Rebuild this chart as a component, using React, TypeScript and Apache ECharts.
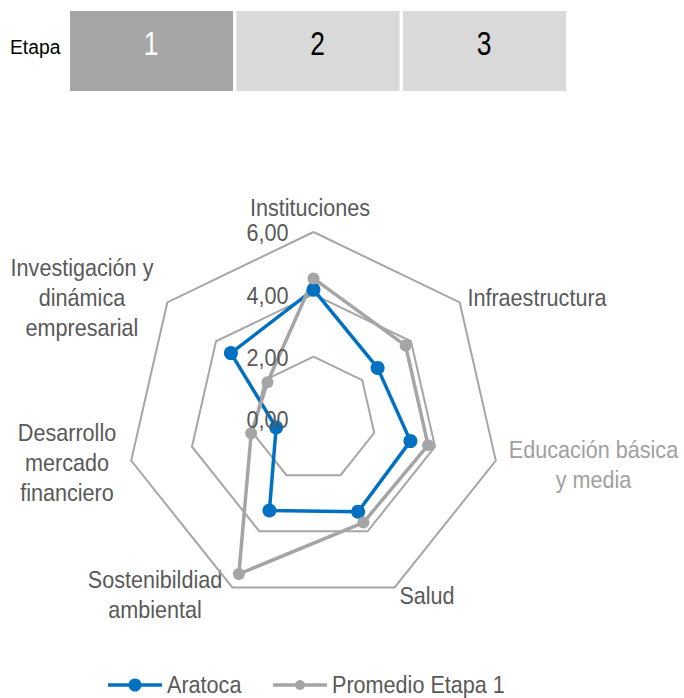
import React, { useEffect, useRef } from "react";
import * as echarts from "echarts";

// ---- Data ----
const indicators = [
  "Instituciones",
  "Infraestructura",
  "Educación básica\ny media",
  "Salud",
  "Sostenibildiad\nambiental",
  "Desarrollo\nmercado\nfinanciero",
  "Investigación y\ndinámica\nempresarial",
];
const aratoca = [4.15, 2.63, 3.19, 3.3, 3.26, 1.23, 3.39];
const promedio = [4.51, 3.78, 3.77, 3.69, 5.52, 2.05, 1.89];
const seriesNames = ["Aratoca", "Promedio Etapa 1"];
const tickValues = [0, 2, 4, 6];
const tickLabels = ["0,00", "2,00", "4,00", "6,00"];
const stages = ["1", "2", "3"];
const activeStage = 0;
const stageLabel = "Etapa";
const axisMax = 6;

// ---- Layout / style ----
const W = 684;
const H = 698;
const CX = 313.5;
const CY = 419;
const R = 187;
const FONT = "'Liberation Sans', Arial, sans-serif";
const NARROW = 0.9;
const TEXT = "#595959";
const BLUE = "#0070C0";
const GRAY = "#A5A5A5";
// label centers relative to chart center (clockwise order as in indicators)
const labelOffsets: [number, number][] = [
  [-3.5, -211],
  [223.5, -121],
  [280, 46],
  [113.5, 177],
  [-158.5, 176],
  [-246.5, 44],
  [-231.5, -121],
];
const labelColors = [TEXT, TEXT, "#A0A0A0", TEXT, TEXT, TEXT, TEXT];
const legendColors = [BLUE, GRAY];
const legendSymbol = [13, 10];
const legendX = [108, 273];
const legendY = 685;

// ECharts places radar indicators counter-clockwise; reorder for clockwise
const order = [0, 6, 5, 4, 3, 2, 1];

export default function App() {
  const ref = useRef<HTMLDivElement>(null);
  useEffect(() => {
    document.body.style.margin = "0";
    const chart = echarts.init(ref.current!, null, { renderer: "svg" });

    const graphics: any[] = [];
    // Stage header
    graphics.push({
      type: "text",
      x: 10,
      y: 47,
      scaleX: 0.92,
      style: { text: stageLabel, font: `21px ${FONT}`, fill: "#000", verticalAlign: "middle" },
    });
    stages.forEach((s, i) => {
      const x = 70 + i * 166.5;
      graphics.push({
        type: "rect",
        shape: { x, y: 11, width: 163, height: 80 },
        style: { fill: i === activeStage ? "#A6A6A6" : "#D9D9D9" },
      });
      graphics.push({
        type: "text",
        x: x + 81,
        y: 43,
        scaleX: 0.8,
        style: {
          text: s,
          font: `33px ${FONT}`,
          fill: i === activeStage ? "#FFFFFF" : "#000000",
          align: "center",
          verticalAlign: "middle",
        },
      });
    });
    // tick labels
    tickValues.forEach((v, i) => {
      graphics.push({
        type: "text",
        x: CX - 25,
        y: CY - (v / axisMax) * R + 1,
        z: 10,
        scaleX: NARROW,
        style: {
          text: tickLabels[i],
          font: `24px ${FONT}`,
          fill: TEXT,
          align: "right",
          verticalAlign: "middle",
        },
      });
    });
    // indicator names
    indicators.forEach((name, i) => {
      graphics.push({
        type: "text",
        x: CX + labelOffsets[i][0],
        y: CY + labelOffsets[i][1],
        scaleX: NARROW,
        style: {
          text: name,
          font: `24px ${FONT}`,
          lineHeight: 30,
          fill: labelColors[i],
          align: "center",
          verticalAlign: "middle",
        },
      });
    });
    // legend
    seriesNames.forEach((n, i) => {
      const x0 = legendX[i];
      graphics.push({
        type: "line",
        shape: { x1: x0, y1: legendY, x2: x0 + 54, y2: legendY },
        style: { stroke: legendColors[i], lineWidth: 3.5 },
      });
      graphics.push({
        type: "circle",
        shape: { cx: x0 + 27, cy: legendY, r: legendSymbol[i] / 2 },
        style: { fill: legendColors[i] },
      });
      graphics.push({
        type: "text",
        x: x0 + 59,
        y: legendY,
        scaleX: NARROW,
        style: { text: n, font: `24px ${FONT}`, fill: TEXT, verticalAlign: "middle" },
      });
    });

    chart.setOption({
      animation: false,
      backgroundColor: "#FFFFFF",
      legend: { show: false, data: seriesNames },
      radar: {
        center: [CX, CY],
        radius: R,
        startAngle: 90,
        splitNumber: 3,
        shape: "polygon",
        indicator: order.map((i) => ({ name: indicators[i], min: 0, max: axisMax })),
        axisName: { show: false },
        axisLine: { show: false },
        axisTick: { show: false },
        axisLabel: { show: false },
        splitArea: { show: false },
        splitLine: { lineStyle: { color: "#A6A6A6", width: 2 } },
      },
      series: [
        {
          type: "radar",
          name: seriesNames[0],
          symbol: "circle",
          symbolSize: 14,
          lineStyle: { color: BLUE, width: 3.5 },
          itemStyle: { color: BLUE },
          data: [{ name: seriesNames[0], value: order.map((i) => aratoca[i]) }],
        },
        {
          type: "radar",
          name: seriesNames[1],
          symbol: "circle",
          symbolSize: 12,
          lineStyle: { color: GRAY, width: 3.5 },
          itemStyle: { color: GRAY },
          data: [{ name: seriesNames[1], value: order.map((i) => promedio[i]) }],
        },
      ],
      graphic: graphics,
    });
    return () => chart.dispose();
  }, []);
  return <div ref={ref} style={{ width: W, height: H, position: "absolute", left: 0, top: 0 }} />;
}
